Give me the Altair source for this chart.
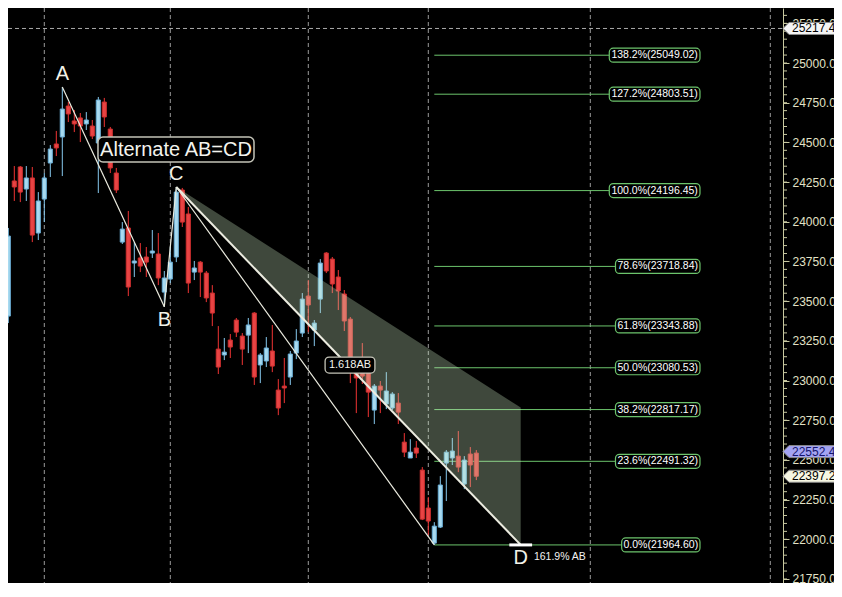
import altair as alt
import pandas as pd

# ---------------- data ----------------
opens = [23488, 23406, 24257, 24345, 24206, 24276, 23929, 24143, 24370, 24490,
         24534, 24729, 24635, 24654, 24616, 24603, 24496, 24754, 24584, 24307,
         23872, 23961, 23740, 23772, 23778, 23803, 23797, 23557, 23639, 23778,
         24200, 24049, 23683, 23746, 23677, 23551, 23198, 23161, 23255, 23381,
         23280, 23286, 23425, 23098, 23123, 23186, 22940, 22965, 23022, 23173,
         23299, 23532, 23318, 23513, 23803, 23765, 23652, 23545, 23387, 23116,
         23060, 23053, 22814, 22965, 22852, 22827, 22858, 22612, 22512, 22575,
         22436, 22197, 21976, 22077, 22480, 22512, 22524, 22348, 22537, 22543]
highs = [23507, 23961, 24351, 24351, 24351, 24345, 24187, 24307, 24483, 24572,
         24849, 24754, 24704, 24685, 24691, 24641, 24786, 24780, 24597, 24339,
         23998, 24068, 23872, 23866, 23841, 23948, 23929, 23690, 23841, 24219,
         24213, 24093, 23753, 23753, 23690, 23601, 23343, 23268, 23293, 23394,
         23299, 23394, 23431, 23173, 23274, 23350, 23009, 23142, 23186, 23324,
         23551, 23633, 23381, 23765, 23809, 23778, 23696, 23570, 23400, 23142,
         23236, 23066, 22978, 22997, 23053, 22927, 22921, 22669, 22631, 22619,
         22455, 22266, 22108, 22398, 22562, 22638, 22682, 22524, 22581, 22562]
lows = [23268, 23362, 24131, 24124, 24131, 23872, 23885, 23998, 24282, 24414,
        24288, 24628, 24565, 24502, 24578, 24521, 24181, 24597, 24307, 24181,
        23860, 23532, 23652, 23683, 23652, 23772, 23601, 23465, 23614, 23746,
        23967, 23551, 23633, 23526, 23494, 23343, 23041, 23129, 23142, 23274,
        23098, 23173, 22972, 22984, 23085, 23053, 22782, 22858, 22972, 23135,
        23274, 23305, 23217, 23425, 23677, 23551, 23444, 23312, 22984, 22795,
        22978, 22770, 22726, 22795, 22820, 22814, 22726, 22518, 22512, 22512,
        22121, 22026, 21964.6, 22071, 22241, 22468, 22423, 22316, 22329, 22373]
closes = [23343, 23910, 24219, 24187, 24276, 23916, 24131, 24276, 24458, 24465,
          24710, 24679, 24616, 24603, 24641, 24540, 24767, 24660, 24339, 24200,
          23954, 23589, 23753, 23721, 23746, 23816, 23646, 23646, 23746, 24187,
          23998, 23614, 23709, 23683, 23520, 23425, 23085, 23179, 23211, 23305,
          23198, 23350, 23022, 23161, 23205, 23091, 22827, 22953, 23167, 23249,
          23513, 23476, 23362, 23740, 23690, 23608, 23564, 23375, 23116, 23016,
          23028, 22927, 22965, 22940, 22934, 22915, 22801, 22549, 22549, 22543,
          22127, 22115, 22083, 22342, 22549, 22556, 22455, 22499, 22468, 22397.2]

fib_pct = ["138.2", "127.2", "100.0", "78.6", "61.8", "50.0", "38.2", "23.6", "0.0"]
fib_price = [25049.02, 24803.51, 24196.45, 23718.84, 23343.88, 23080.53,
             22817.17, 22491.32, 21964.60]

axis_ticks = list(range(21750, 25251, 250))
minor_ticks = list(range(21750, 25301, 50))

point_names = ["A", "B", "C", "D"]
point_idx = [10, 27, 29, 72]
point_price = [24849, 23465, 24219, 21964.6]
proj_idx = 86.4          # projected D (bar index)
proj_top = 22830         # upper corner of the shaded zone

grid_idx = [7, 28, 51, 71, 98, 128]
crosshair_price = 25217.45
marker_price = [25217.45, 22552.49, 22397.20]
marker_fill = ["#f4f4f4", "#a4a4f2", "#f6f6e2"]
marker_text = ["#000000", "#14146e", "#000000"]

# ---------------- scales ----------------
W, H = 775, 575
X = alt.Scale(domain=[0.95, 130.117], nice=False, zero=False)
Y = alt.Scale(domain=[21724.78, 25346.42], nice=False, zero=False)
PX = 6.0                      # pixels per bar
PPP = 6.2985                  # price per pixel
FONT = "Liberation Sans"

Y_AXIS = alt.Axis(
    orient="right", values=axis_ticks, format=".2f", title=None,
    labelFont=FONT, labelFontSize=12, labelColor="#e2e2c6",
    domainColor="#c8c8a0", tickColor="#c8c8a0", tickSize=6, labelPadding=3,
    grid=False, labelFlush=False, labelOverlap=False, labelBound=False)


def xq(f):
    return alt.X(f, type="quantitative", scale=X, axis=None)


def yq(f):
    return alt.Y(f, type="quantitative", scale=Y, axis=Y_AXIS)


# ---------------- frames ----------------
cd = pd.DataFrame({"i": range(len(opens)), "o": opens, "h": highs, "l": lows, "c": closes})
cd["dir"] = ["up" if c >= o else "down" for o, c in zip(opens, closes)]
cd["xl"] = cd["i"] - 0.34
cd["xr"] = cd["i"] + 0.34

grid = pd.DataFrame({"i": grid_idx})
cross = pd.DataFrame({"p": [crosshair_price]})

fib = pd.DataFrame({"p": fib_price})
fib["label"] = [f"{a}%({b:.2f})" for a, b in zip(fib_pct, fib_price)]
fib["x0"] = point_idx[3]
fib["right"] = 116.28
fib["left"] = fib["right"] - (6.2 * fib["label"].str.len() - 8.5) / PX
fib["mid"] = (fib["left"] + fib["right"]) / 2
fib["top"] = fib["p"] + 7 * PPP
fib["bot"] = fib["p"] - 7 * PPP

A, B, C, D = [(i, p) for i, p in zip(point_idx, point_price)]
seg = pd.DataFrame({
    "x1": [A[0], B[0], C[0], C[0]],
    "y1": [A[1], B[1], C[1], C[1]],
    "x2": [B[0], C[0], D[0], proj_idx],
    "y2": [B[1], C[1], D[1], D[1]],
    "w": [1.2, 1.2, 1.2, 2.0],
})
zone = pd.DataFrame({"i": [C[0], proj_idx], "top": [C[1], proj_top], "bot": [C[1], D[1]]})
dmark = pd.DataFrame({"x1": [proj_idx - 1.9], "x2": [proj_idx + 1.9], "p": [D[1]]})

lab_up = pd.DataFrame({"t": ["A", "C"], "i": [A[0], C[0]], "p": [A[1], C[1]]})
lab_dn = pd.DataFrame({"t": ["B", "D"], "i": [B[0], proj_idx], "p": [B[1], D[1]]})
ab_txt = pd.DataFrame({"t": ["161.9% AB"], "i": [proj_idx + 2.2], "p": [D[1]]})

alt_box = pd.DataFrame({"x1": [15.95], "x2": [41.95], "y1": [24534], "y2": [24376.5],
                        "xm": [28.95], "ym": [24455], "t": ["Alternate AB=CD"]})
ab_box = pd.DataFrame({"x1": [53.8], "x2": [62.1], "y1": [23148], "y2": [23047],
                       "xm": [57.95], "ym": [23098], "t": ["1.618AB"]})

minor = pd.DataFrame({"p": minor_ticks})
mk = pd.DataFrame({"p": marker_price, "fill": marker_fill, "tc": marker_text,
                   "t": [f"{v:.2f}" for v in marker_price]})

# ---------------- layers ----------------
dash = [4, 3]
grid_l = alt.Chart(grid).mark_rule(color="#9a9a9a", strokeDash=dash, strokeWidth=1).encode(
    x=xq("i"), y=alt.value(0), y2=alt.value(H))
cross_l = alt.Chart(cross).mark_rule(color="#a8a8a8", strokeDash=dash, strokeWidth=1).encode(
    y=yq("p"), x=alt.value(0), x2=alt.value(W))

minor_l = alt.Chart(minor).mark_rule(color="#c8c8a0", strokeWidth=1).encode(
    y=yq("p"), x=alt.value(W), x2=alt.value(W + 4))

fib_line = alt.Chart(fib).mark_rule(color="#6cc46c", strokeWidth=1).encode(
    x=xq("x0"), x2="right:Q", y=yq("p"))

wick_col = alt.Color("dir:N", scale=alt.Scale(domain=["up", "down"], range=["#86c8ee", "#f03434"]), legend=None)
body_fill = alt.Fill("dir:N", scale=alt.Scale(domain=["up", "down"], range=["#a8daf0", "#e84444"]), legend=None)
body_stroke = alt.Stroke("dir:N", scale=alt.Scale(domain=["up", "down"], range=["#6aaed6", "#d03030"]), legend=None)

wicks = alt.Chart(cd).mark_rule(strokeWidth=1).encode(
    x=xq("i"), y=yq("l"), y2="h:Q", color=wick_col)
bodies = alt.Chart(cd).mark_rect(strokeWidth=1).encode(
    x=xq("xl"), x2="xr:Q", y=yq("o"), y2="c:Q", fill=body_fill, stroke=body_stroke)

zone_l = alt.Chart(zone).mark_area(color="#d0f0c8", opacity=0.3).encode(
    x=xq("i"), y=yq("top"), y2="bot:Q")

seg_l = alt.Chart(seg).mark_rule(color="#ecece0").encode(
    x=xq("x1"), y=yq("y1"), x2="x2:Q", y2="y2:Q",
    strokeWidth=alt.StrokeWidth("w:Q", scale=None))

dmark_l = alt.Chart(dmark).mark_rule(color="#ffffff", strokeWidth=3).encode(
    x=xq("x1"), x2="x2:Q", y=yq("p"))

fib_box = alt.Chart(fib).mark_rect(fill="#000000", stroke="#6cc46c", strokeWidth=1.2, cornerRadius=4).encode(
    x=xq("left"), x2="right:Q", y=yq("top"), y2="bot:Q")
fib_txt = alt.Chart(fib).mark_text(font=FONT, fontSize=10.5, color="#ffffff", baseline="middle").encode(
    x=xq("mid"), y=yq("p"), text="label:N")

up_txt = alt.Chart(lab_up).mark_text(font=FONT, fontSize=20, color="#f2f2e8", dy=-13, baseline="middle").encode(
    x=xq("i"), y=yq("p"), text="t:N")
dn_txt = alt.Chart(lab_dn).mark_text(font=FONT, fontSize=20, color="#f2f2e8", dy=13, baseline="middle").encode(
    x=xq("i"), y=yq("p"), text="t:N")
ab_l = alt.Chart(ab_txt).mark_text(font=FONT, fontSize=10.5, color="#f2f2f2", dy=12, align="left", baseline="middle").encode(
    x=xq("i"), y=yq("p"), text="t:N")

altb = alt.Chart(alt_box).mark_rect(fill="#000000", stroke="#c4c4b8", strokeWidth=1.5, cornerRadius=5).encode(
    x=xq("x1"), x2="x2:Q", y=yq("y1"), y2="y2:Q")
altt = alt.Chart(alt_box).mark_text(font=FONT, fontSize=20, color="#f4f4ee", baseline="middle").encode(
    x=xq("xm"), y=yq("ym"), text="t:N")
abb = alt.Chart(ab_box).mark_rect(fill="#000000", stroke="#c4c4b8", strokeWidth=1.3, cornerRadius=4).encode(
    x=xq("x1"), x2="x2:Q", y=yq("y1"), y2="y2:Q")
abt = alt.Chart(ab_box).mark_text(font=FONT, fontSize=11, color="#f4f4ee", baseline="middle").encode(
    x=xq("xm"), y=yq("ym"), text="t:N")

shape = "M -1 0 L 0 -1 L 10 -1 L 10 1 L 0 1 Z"
mk_shape = alt.Chart(mk).mark_point(shape=shape, size=144, filled=True, opacity=1,
                                    stroke="#8a8a8a", strokeWidth=1).encode(
    x=alt.value(W + 6), y=yq("p"), fill=alt.Fill("fill:N", scale=None))
mk_text = alt.Chart(mk).mark_text(font=FONT, fontSize=12, align="left", baseline="middle").encode(
    x=alt.value(W + 9), y=yq("p"), text="t:N", color=alt.Color("tc:N", scale=None))

chart = alt.layer(
    cross_l, grid_l, minor_l, fib_line, wicks, bodies, zone_l, seg_l, dmark_l,
    fib_box, fib_txt, up_txt, dn_txt, ab_l, altb, altt, abb, abt, mk_shape, mk_text
).properties(
    width=W, height=H,
    autosize=alt.AutoSizeParams(type="none"),
    padding={"left": 0, "top": 0, "right": 51, "bottom": 0},
    background="#000000",
).configure_view(stroke=None)

chart.save("out.html", embed_options={"renderer": "svg", "actions": False})
